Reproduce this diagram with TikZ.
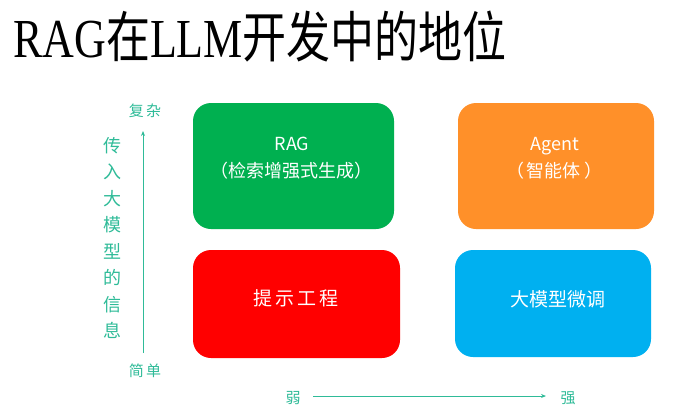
\documentclass[tikz,border=0pt]{standalone}
\usepackage{fontspec}
\setmainfont{Liberation Serif}
\newfontfamily\titleserif{Liberation Serif}
\newfontfamily\cjk{Noto Sans CJK SC}
\usetikzlibrary{arrows.meta}
\definecolor{cgreen}{HTML}{00B050}
\definecolor{corange}{HTML}{FF9029}
\definecolor{cred}{HTML}{FF0000}
\definecolor{cblue}{HTML}{00B0F0}
\definecolor{teal}{HTML}{2FBB98}
\begin{document}
\begin{tikzpicture}[x=1pt,y=-1pt,
  box/.style={rounded corners=18pt, inner sep=0pt, draw=none},
  boxtext/.style={text=white, font=\cjk\fontsize{18}{20}\selectfont, inner sep=0pt},
  axlabel/.style={text=teal, font=\cjk\fontsize{15}{16}\selectfont, inner sep=0pt},
  axis/.style={draw=teal, line width=1pt, -{Stealth[length=5pt,width=4pt]}}
]
\useasboundingbox (0,0) rectangle (688,415);
% title
\node[anchor=base west, inner sep=0pt] (title) at (13,57)
  {\scalebox{1}[1.25]{\fontsize{44}{46}\selectfont{\titleserif RAG}{\cjk 在}{\titleserif LLM}{\cjk 开发中的地位}}};
% boxes
\node[box, fill=cgreen, minimum width=201pt, minimum height=126pt] (rag) at (293.5,166) {};
\node[box, fill=corange, minimum width=196pt, minimum height=126pt] (agent) at (556,166) {};
\node[box, fill=cred, minimum width=207pt, minimum height=108pt] (prompt) at (296.5,304) {};
\node[box, fill=cblue, minimum width=196pt, minimum height=107pt] (ft) at (553,303.5) {};
% box texts
\node[boxtext] (rag1) at (292,144) {RAG};
\node[boxtext] (rag2) at (291,171) {（检索增强式生成）};
\node[boxtext] (agent1) at (555,146) {Agent};
\node[boxtext] (agent2) at (554,171) {（\,智能体\,）};
\node[boxtext, font=\cjk\fontsize{19}{20}\selectfont] (prompt1) at (296,298) {提\,示\,工\,程};
\node[boxtext, font=\cjk\fontsize{19}{20}\selectfont] (ft1) at (558,299) {大模型微调};
% vertical axis
\node[axlabel] (complex) at (145,111) {复\,杂};
\node[axlabel] (simple) at (145,371) {简\,单};
\coordinate (vbot) at (143,353);
\coordinate (vtop) at (143,131);
\draw[axis] (vbot) -- (vtop);
\node[axlabel, font=\cjk\fontsize{18}{26.5}\selectfont, align=center] (info) at (112.5,238)
  {传\\入\\大\\模\\型\\的\\信\\息};
% horizontal axis
\node[axlabel] (weak) at (293,398) {弱};
\node[axlabel] (strong) at (568,398) {强};
\coordinate (hl) at (313,396);
\coordinate (hr) at (546,396);
\draw[axis] (hl) -- (hr);
\end{tikzpicture}
\end{document}
